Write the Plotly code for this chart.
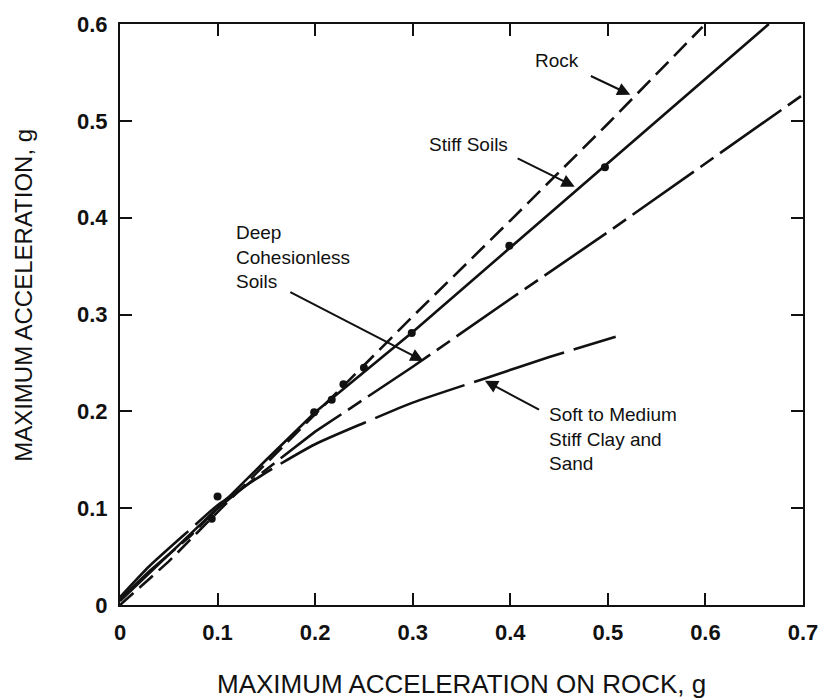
import plotly.graph_objects as go

# --- data ---
rock_x = [0.0, 0.05, 0.1, 0.2, 0.3, 0.4, 0.5, 0.597]
rock_y = [0.0, 0.045, 0.096, 0.197, 0.298, 0.397, 0.497, 0.597]

stiff_x = [0.0, 0.05, 0.1, 0.15, 0.2, 0.3, 0.4, 0.5, 0.665]
stiff_y = [0.004, 0.052, 0.1, 0.15, 0.199, 0.282, 0.369, 0.456, 0.6]

deep_x = [0.0, 0.03, 0.073, 0.1, 0.15, 0.2, 0.3, 0.4, 0.5, 0.6, 0.7]
deep_y = [0.006, 0.035, 0.072, 0.1, 0.14, 0.179, 0.246, 0.316, 0.385, 0.456, 0.527]

soft_x = [0.0, 0.03, 0.073, 0.1, 0.15, 0.2, 0.25, 0.3, 0.374, 0.44, 0.508]
soft_y = [0.008, 0.04, 0.079, 0.103, 0.137, 0.166, 0.188, 0.209, 0.234, 0.256, 0.277]

pts_x = [0.094, 0.1, 0.199, 0.217, 0.229, 0.25, 0.299, 0.399, 0.497]
pts_y = [0.089, 0.112, 0.199, 0.212, 0.228, 0.245, 0.281, 0.371, 0.452]

x_ticks = [0, 0.1, 0.2, 0.3, 0.4, 0.5, 0.6, 0.7]
y_ticks = [0, 0.1, 0.2, 0.3, 0.4, 0.5, 0.6]

FONT = "Liberation Sans, Arial, Helvetica, sans-serif"
INK = "#111111"

W, H = 830, 699
ML, MR, MT, MB = 120, 16, 16, 94
PW, PH = W - ML - MR, H - MT - MB


def px_to_paper(px, py):
    return (px - ML) / PW, (H - MB - py) / PH


fig = go.Figure()
fig.add_trace(go.Scatter(x=rock_x, y=rock_y, mode="lines", name="Rock",
                         line=dict(color=INK, width=2.6, dash="18px,8px")))
fig.add_trace(go.Scatter(x=stiff_x, y=stiff_y, mode="lines", name="Stiff Soils",
                         line=dict(color=INK, width=2.6)))
fig.add_trace(go.Scatter(x=deep_x, y=deep_y, mode="lines", name="Deep Cohesionless Soils",
                         line=dict(color=INK, width=2.6, dash="75px,8px,16px,8px")))
fig.add_trace(go.Scatter(x=soft_x, y=soft_y, mode="lines", name="Soft to Medium Stiff Clay and Sand",
                         line=dict(color=INK, width=2.6, dash="95px,10px", shape="spline", smoothing=0.6)))
fig.add_trace(go.Scatter(x=pts_x, y=pts_y, mode="markers", name="data",
                         marker=dict(color=INK, size=8)))

ann_font = dict(family=FONT, size=19, color=INK)
annotations = [
    dict(x=0.4475, y=0.562, text="Rock", showarrow=False, font=ann_font,
         xanchor="center", yanchor="middle"),
    dict(x=0.357, y=0.476, text="Stiff Soils", showarrow=False, font=ann_font,
         xanchor="center", yanchor="middle"),
    dict(x=0.117, y=0.359, text="Deep<br>Cohesionless<br>Soils", showarrow=False, font=ann_font,
         xanchor="left", yanchor="middle", align="left"),
    dict(x=0.438, y=0.171, text="Soft to Medium<br>Stiff Clay and<br>Sand", showarrow=False, font=ann_font,
         xanchor="left", yanchor="middle", align="left"),
]
arrows = [
    ((0.481, 0.547), (0.523, 0.527)),
    ((0.406, 0.462), (0.466, 0.432)),
    ((0.173, 0.324), (0.311, 0.252)),
    ((0.431, 0.201), (0.374, 0.2316)),
]
for (tx, ty), (hx, hy) in arrows:
    annotations.append(dict(x=hx, y=hy, ax=tx, ay=ty, xref="x", yref="y", axref="x", ayref="y",
                            text="", showarrow=True, arrowhead=2, arrowsize=1.3, arrowwidth=2,
                            arrowcolor=INK, standoff=0))

# axis titles placed as paper annotations
xt_x, xt_y = px_to_paper(467, 685)
yt_x, yt_y = px_to_paper(22, 291)
annotations.append(dict(x=xt_x, y=xt_y, xref="paper", yref="paper", showarrow=False,
                        text="MAXIMUM ACCELERATION ON ROCK, g", xanchor="center", yanchor="middle",
                        font=dict(family=FONT, size=26, color=INK)))
annotations.append(dict(x=yt_x, y=yt_y, xref="paper", yref="paper", showarrow=False,
                        text="MAXIMUM ACCELERATION, g", textangle=-90, xanchor="center", yanchor="middle",
                        font=dict(family=FONT, size=24, color=INK)))

axis_common = dict(showgrid=False, zeroline=False, showline=True, linecolor=INK, linewidth=2,
                   mirror="ticks", ticks="inside", ticklen=12, tickwidth=2, tickcolor=INK,
                   tickfont=dict(family=FONT, size=22, color=INK))

fig.update_layout(
    width=W, height=H,
    margin=dict(l=ML, r=MR, t=MT, b=MB),
    paper_bgcolor="white", plot_bgcolor="white",
    showlegend=False,
    annotations=annotations,
    xaxis=dict(range=[0, 0.7], tickvals=x_ticks, ticktext=[f"<b>{v:g}</b>" for v in x_ticks],
               ticklabelstandoff=7, **axis_common),
    yaxis=dict(range=[0, 0.6], tickvals=y_ticks, ticktext=[f"<b>{v:g}</b>" for v in y_ticks],
               ticklabelstandoff=6, **axis_common),
)

fig.write_html("out.html")
